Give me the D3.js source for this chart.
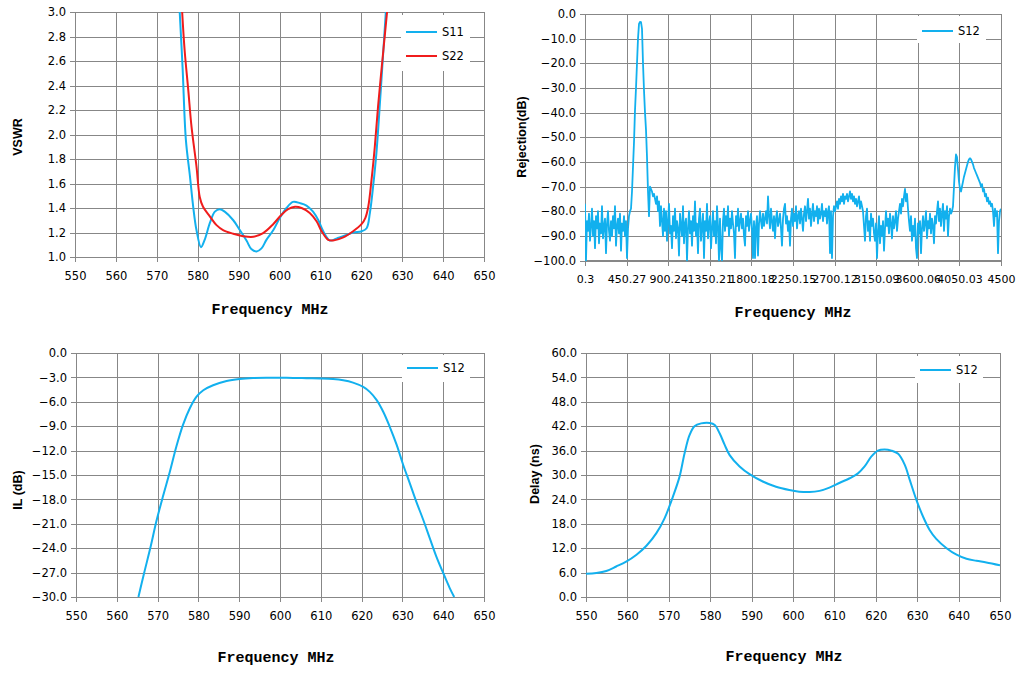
<!DOCTYPE html>
<html><head><meta charset="utf-8">
<script src="https://cdn.jsdelivr.net/npm/d3@7"></script>
<style>
body{margin:0;background:#fff}
svg{display:block}
.tick text{font-family:"DejaVu Sans",sans-serif;font-size:11.5px;fill:#000}
</style></head><body><script>
// ---------------- DATA ----------------
const freqTickLabels = [550,560,570,580,590,600,610,620,630,640,650];

// VSWR (top-left)
const vswrTicks = [1.0,1.2,1.4,1.6,1.8,2.0,2.2,2.4,2.6,2.8,3.0];
const s11Freq = [575.6,576.3,577.1,578.1,578.9,579.7,580.8,581.7,583.0,584.2,585.4,586.6,588.7,590.3,592.0,593.1,594.4,595.6,596.8,598.5,600.1,601.7,603.3,605.0,606.6,608.2,609.5,610.7,612.3,613.9,616.4,618.0,620.1,621.3,622.1,622.9,623.7,624.6,625.4,626.0];
const s11Vswr = [3.0,2.55,1.96,1.66,1.41,1.22,1.08,1.14,1.28,1.37,1.39,1.37,1.30,1.22,1.13,1.065,1.045,1.07,1.14,1.22,1.32,1.40,1.45,1.44,1.42,1.37,1.30,1.21,1.135,1.15,1.18,1.20,1.21,1.235,1.36,1.58,1.85,2.28,2.69,3.0];
const s22Freq = [576.2,576.8,577.7,578.5,579.7,580.5,581.3,583.0,584.6,586.2,588.7,591.1,593.6,596.0,598.5,600.5,602.1,603.8,605.4,607.4,609.1,610.3,611.9,613.1,615.6,618.0,620.1,621.0,621.7,622.5,623.3,624.1,625.4,626.3];
const s22Vswr = [3.0,2.69,2.36,2.06,1.74,1.49,1.41,1.33,1.26,1.22,1.19,1.17,1.165,1.195,1.27,1.345,1.39,1.41,1.40,1.36,1.29,1.21,1.14,1.135,1.16,1.21,1.27,1.32,1.41,1.63,1.90,2.23,2.69,3.0];

// Rejection (top-right), swept from rejStart to rejStop
const rejTickLabels = ["0.3","450.27","900.24","1350.21","1800.18","2250.15","2700.12","3150.09","3600.06","4050.03","4500"];
const rejTicks = [0,-10,-20,-30,-40,-50,-60,-70,-80,-90,-100];
const rejStart = 0.3, rejStop = 4500;
const rejS12 = [
-77,-100,-84,-88,-81,-92,-86,-79,-90,-84,
-95,-82,-87,-80,-93,-85,-89,-78,-91,-86,
-83,-97,-85,-80,-88,-92,-84,-90,-82,-87,
-78,-94,-86,-83,-89,-81,-96,-85,-88,-82,
-90,-84,-99,-87,-82,
-80,-79,-72,-62,-52,-39,-30,-20,-10,-4,-3.2,-3.3,-6,-20,-31,-40,-47,-58,-72,-82,-70,
-71,-72,-74,-73,-75,-77,-74,-80,-76,-86,-78,-84,-90,-79,-88,
-80,-92,-84,-77,-89,-86,-95,-82,-88,-79,
-91,-84,-87,-98,-81,-86,-90,-78,-93,-85,
-83,-100,-87,-80,-89,-84,-94,-82,-88,-76,
-90,-85,-97,-83,-79,-92,-86,-81,-99,-84,
-88,-77,-91,-85,-82,-95,-87,-80,-90,-84,
-93,-78,-86,-100,-83,
-95,-100,-84,-79,-88,-82,-86,-78,-90,-83,
-87,-80,-85,-89,-99,-82,-86,-79,-88,-84,
-81,-87,-83,-90,-94,-82,-86,-80,-88,-84,
-81,-87,
-99,-84,-99,-86,-82,-98,-85,-80,
-84,-87,-81,-86,-83,-80,-85,-74,-82,-87,
-79,-84,-88,-82,-91,-83,-80,-86,-84,-81,
-87,-94,-83,-79,-77,-85,-82,-88,-84,-94,
-83,-79,-86,-81,-84,-78,-87,-82,-80,-85,
-79,-83,-88,-81,-78,-84,-80,-75,-83,-79,
-86,-81,-77,-84,-80,-82,-78,-85,-79,-83,
-81,-77,-84,-80,-82,-79,-85,-80,-78,
-97,-80,-99,-82,-78,-80,
-78,-76,-79,-75,-77,-74,-76,-73,-77,-74,
-75,-73,-76,-74,-72,-75,-73,-76,-74,-77,
-75,-78,-76,-74,-79,-76,-78,
-80,-86,-92,-82,-79,-88,-84,-92,-81,-86,-83,-89,-92,
-85,-99,-88,-82,-93,-86,-90,-84,-96,-87,
-80,-86,-83,-89,-81,-85,-91,-82,-87,-84,-80,-88,-83,
-80,-77,-81,-75,-78,-74,-71,-76,-73,-79,
-84,-88,-82,-92,-86,-90,-83,-95,-99,-85,-89,-84,-97,-87,
-82,-88,-85,-80,-91,-84,-87,-81,-89,-83,-86,-93,-82,-85,-80,
-76,-84,-79,-86,-81,-77,-88,-80,-83,-78,-90,-82,-79,-81,
-80,-78,-70,-62,-57,-58,-63,-68,-71,-72,
-70,-68,-66,-64.5,-63,-61.5,-60,-59,-58.5,-59,
-60,-61,-62.5,-63.5,-64.5,-65.5,-66.5,-67.5,-68.5,-70,
-69,-72,-71,-74,-73,-76,-74.5,-77,-76,-78,
-77,-80,-86,-79,-82,-80,-97,-84,-80,-79
];

// Insertion loss (bottom-left)
const ilTicks = [0,-3,-6,-9,-12,-15,-18,-21,-24,-27,-30];
const ilFreq = [565.3,566.7,568.3,569.7,571.3,573.0,574.6,576.2,577.9,579.5,581.2,583.6,586.9,590.1,593.4,596.7,600.0,603.2,606.5,609.8,613.0,615.5,617.9,620.4,622.0,623.7,625.3,626.9,628.6,630.2,631.8,633.4,635.1,636.7,638.3,640.0,641.6,642.7];
const ilS12 = [-30.0,-27.05,-23.8,-20.7,-17.65,-14.6,-11.5,-8.87,-6.8,-5.4,-4.58,-3.96,-3.45,-3.2,-3.08,-3.04,-3.04,-3.06,-3.1,-3.13,-3.2,-3.35,-3.64,-4.17,-4.78,-5.8,-7.23,-9.07,-11.3,-13.77,-16.0,-18.27,-20.5,-22.76,-25.0,-27.05,-28.9,-30.0];

// Group delay (bottom-right)
const delayTicks = [0,6,12,18,24,30,36,42,48,54,60];
const delayFreq = [550,552.5,554.9,557.3,559.7,562.2,564.6,567.0,569.0,571.0,572.6,573.8,575.0,576.2,577.8,579.9,581.1,582.3,583.5,584.7,587.1,589.5,592.7,595.9,599.1,601.5,604.0,606.4,608.8,611.3,613.7,615.7,617.3,618.9,620.5,622.1,623.8,625.4,627.0,628.2,629.8,631.4,633.0,634.6,637.1,639.5,641.9,644.3,646.7,650];
const delayS12 = [5.7,5.9,6.4,7.5,8.7,10.4,12.6,15.7,19.4,24.7,29.6,35.3,39.8,42.0,42.7,42.8,42.3,40.2,37.4,34.9,32.1,30.2,28.4,27.1,26.3,25.9,25.8,26.1,26.9,28.1,29.2,30.4,32.1,34.5,36.0,36.3,36.0,35.2,32.5,28.8,23.9,19.8,16.5,14.3,12.0,10.4,9.4,8.9,8.5,7.8];

// ---------------- DRAWING ----------------
const BLUE = "#12b0ee", RED = "#f01c1c", GRID = "#878787";
const svg = d3.select("body").append("svg").attr("width",1021).attr("height",673);
let clipId = 0;

function panel(c){
  const w = c.x1 - c.x0, h = c.y1 - c.y0;
  const g = svg.append("g").attr("transform",`translate(${c.x0},${c.y0})`);
  const x = d3.scaleLinear().domain(c.xDomain).range([0,w]);
  const y = d3.scaleLinear().domain(c.yDomain).range([h,0]);
  const xa = g.append("g").attr("transform",`translate(0,${h})`)
    .call(d3.axisBottom(x).tickValues(c.xTicks).tickFormat(c.xFmt).tickSize(-h).tickPadding(c.xPad));
  xa.select(".domain").remove();
  xa.selectAll(".tick line").attr("y1",5).attr("stroke",GRID).attr("shape-rendering","crispEdges");
  if (c.xFont) xa.selectAll(".tick text").style("font-size",c.xFont);
  const ya = g.append("g")
    .call(d3.axisLeft(y).tickValues(c.yTicks).tickFormat(d3.format(".1f")).tickSize(-w).tickPadding(9));
  ya.select(".domain").remove();
  ya.selectAll(".tick line").attr("x1",-5).attr("stroke",GRID).attr("shape-rendering","crispEdges");
  g.append("rect").attr("width",w).attr("height",h).attr("fill","none").attr("stroke",GRID).attr("shape-rendering","crispEdges");
  const id = "clip" + (clipId++);
  g.append("clipPath").attr("id",id).append("rect").attr("x",0).attr("y",-1).attr("width",w).attr("height",h+2);
  const lg = g.append("g").attr("clip-path",`url(#${id})`);
  c.series.forEach(s=>{
    const line = d3.line().x((d,i)=>x(s.xs[i])).y(d=>y(d)).curve(s.curve || d3.curveCatmullRom.alpha(0.5));
    lg.append("path").datum(s.ys).attr("d",line).attr("fill","none")
      .attr("stroke",s.color).attr("stroke-width",s.width || 2).attr("stroke-linejoin","round");
  });
  // legend
  const L = c.legend;
  const lgd = svg.append("g");
  lgd.append("rect").attr("x",L.x).attr("y",L.y).attr("width",L.w).attr("height",L.h).attr("fill","#fff");
  c.series.forEach((s,i)=>{
    const yy = L.ly + i*L.step;
    lgd.append("line").attr("x1",L.lx).attr("x2",L.lx+31).attr("y1",yy).attr("y2",yy).attr("stroke",s.color).attr("stroke-width",2);
    lgd.append("text").attr("x",L.lx+36).attr("y",yy).attr("dy","0.36em")
      .style("font-family","DejaVu Sans, sans-serif").style("font-size","11.5px").text(s.name);
  });
  // titles
  svg.append("text").attr("x",c.xt[0]).attr("y",c.xt[1]).attr("dy","0.35em").attr("text-anchor","middle")
    .style("font-family","Liberation Mono, monospace").style("font-weight","bold").style("font-size","15px")
    .text("Frequency MHz");
  svg.append("text").attr("transform",`translate(${c.yt[0]},${c.yt[1]}) rotate(-90)`).attr("dy","0.35em").attr("text-anchor","middle")
    .style("font-family","Liberation Sans, Arial, sans-serif").style("font-weight","bold").style("font-size","12.5px")
    .text(c.ytitle);
}

const fmtInt = d3.format("d");

panel({x0:75,x1:484,y0:12,y1:257,xDomain:[550,650],yDomain:[1,3],
  xTicks:freqTickLabels,xFmt:fmtInt,xPad:15,yTicks:vswrTicks,
  series:[{name:"S11",color:BLUE,xs:s11Freq,ys:s11Vswr},{name:"S22",color:RED,xs:s22Freq,ys:s22Vswr}],
  legend:{x:401,y:15,w:69,h:56,lx:406,ly:32,step:24},
  xt:[270,309],yt:[18,137],ytitle:"VSWR"});

const rejFreq = rejS12.map((d,i)=>rejStart + i*(rejStop-rejStart)/(rejS12.length-1));
panel({x0:585,x1:1001,y0:14,y1:260.5,xDomain:[rejStart,rejStop],yDomain:[-100,0],
  xTicks:rejTickLabels.map(Number),xFmt:(d,i)=>rejTickLabels[i],xPad:15,yTicks:rejTicks,xFont:"11px",
  series:[{name:"S12",color:BLUE,xs:rejFreq,ys:rejS12,curve:d3.curveLinear,width:1.8}],
  legend:{x:917,y:16,w:69,h:27,lx:922,ly:31,step:24},
  xt:[793,312],yt:[522,137],ytitle:"Rejection(dB)"});

panel({x0:76,x1:484,y0:353,y1:597,xDomain:[550,650],yDomain:[-30,0],
  xTicks:freqTickLabels,xFmt:fmtInt,xPad:15,yTicks:ilTicks,
  series:[{name:"S12",color:BLUE,xs:ilFreq,ys:ilS12}],
  legend:{x:402,y:355,w:68,h:27,lx:407,ly:368,step:24},
  xt:[276,657],yt:[18,490],ytitle:"IL (dB)"});

panel({x0:586,x1:1000,y0:353,y1:597,xDomain:[550,650],yDomain:[0,60],
  xTicks:freqTickLabels,xFmt:fmtInt,xPad:15,yTicks:delayTicks,
  series:[{name:"S12",color:BLUE,xs:delayFreq,ys:delayS12}],
  legend:{x:915,y:356,w:68,h:27,lx:920,ly:370,step:24},
  xt:[784,656],yt:[535,474],ytitle:"Delay (ns)"});
</script></body></html>
